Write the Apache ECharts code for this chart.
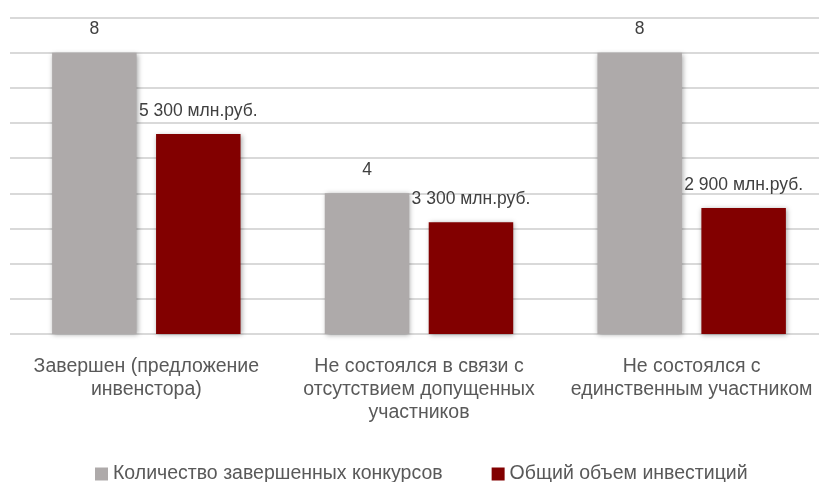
<!DOCTYPE html>
<html>
<head>
<meta charset="utf-8">
<script src="https://cdn.jsdelivr.net/npm/echarts@6/dist/echarts.min.js"></script>
<style>
html,body{margin:0;padding:0;background:#fff;}
#chart{width:819px;height:482px;}
</style>
</head>
<body>
<div id="chart"></div>
<script>
const categories = [
  "Завершен (предложение\nинвенстора)",
  "Не состоялся в связи с\nотсутствием допущенных\nучастников",
  "Не состоялся с\nединственным участником"
];
const seriesNames = ["Количество завершенных конкурсов", "Общий объем инвестиций"];
const countValues = [8, 4, 8];
const investBarValues = [5.69, 3.18, 3.58];
const investLabels = ["5 300 млн.руб.", "3 300 млн.руб.", "2 900 млн.руб."];
const yTicks = {min: 0, max: 9, interval: 1};

const FONT = "'Liberation Sans', Arial, sans-serif";
const chart = echarts.init(document.getElementById('chart'), null, {renderer: 'canvas'});
const shadow = {shadowBlur: 5, shadowColor: 'rgba(0,0,0,0.35)', shadowOffsetX: 1, shadowOffsetY: 1};
chart.setOption({
  animation: false,
  backgroundColor: '#ffffff',
  grid: {left: 10, top: 17.5, width: 818, height: 316.5, containLabel: false, outerBoundsMode: 'none'},
  legend: {
    data: seriesNames,
    left: 90, top: 459,
    icon: 'rect', itemWidth: 13, itemHeight: 13, itemGap: 49,
    textStyle: {fontSize: 19.5, color: '#595959', fontFamily: FONT}
  },
  xAxis: {
    type: 'category',
    data: categories,
    axisLine: {show: false},
    axisTick: {show: false},
    axisLabel: {margin: 21, fontSize: 19.5, lineHeight: 23, color: '#595959', fontFamily: FONT, interval: 0}
  },
  yAxis: {
    type: 'value',
    min: yTicks.min, max: yTicks.max, interval: yTicks.interval,
    axisLabel: {show: false},
    axisLine: {show: false},
    axisTick: {show: false},
    splitLine: {lineStyle: {color: '#d9d9d9', width: 2}}
  },
  series: [
    {
      name: seriesNames[0], type: 'bar', data: countValues,
      barWidth: 84.5, barGap: '23%',
      itemStyle: Object.assign({color: '#AEAAAA'}, shadow),
      label: {show: true, position: 'top', distance: 14, fontSize: 17.5, color: '#404040', fontFamily: FONT}
    },
    {
      name: seriesNames[1], type: 'bar', data: investBarValues,
      barWidth: 84.5, barGap: '23%',
      itemStyle: Object.assign({color: '#820000'}, shadow),
      label: {show: true, position: 'top', distance: 14, fontSize: 17.5, color: '#404040', fontFamily: FONT,
        formatter: p => investLabels[p.dataIndex]}
    }
  ]
});
</script>
</body>
</html>
